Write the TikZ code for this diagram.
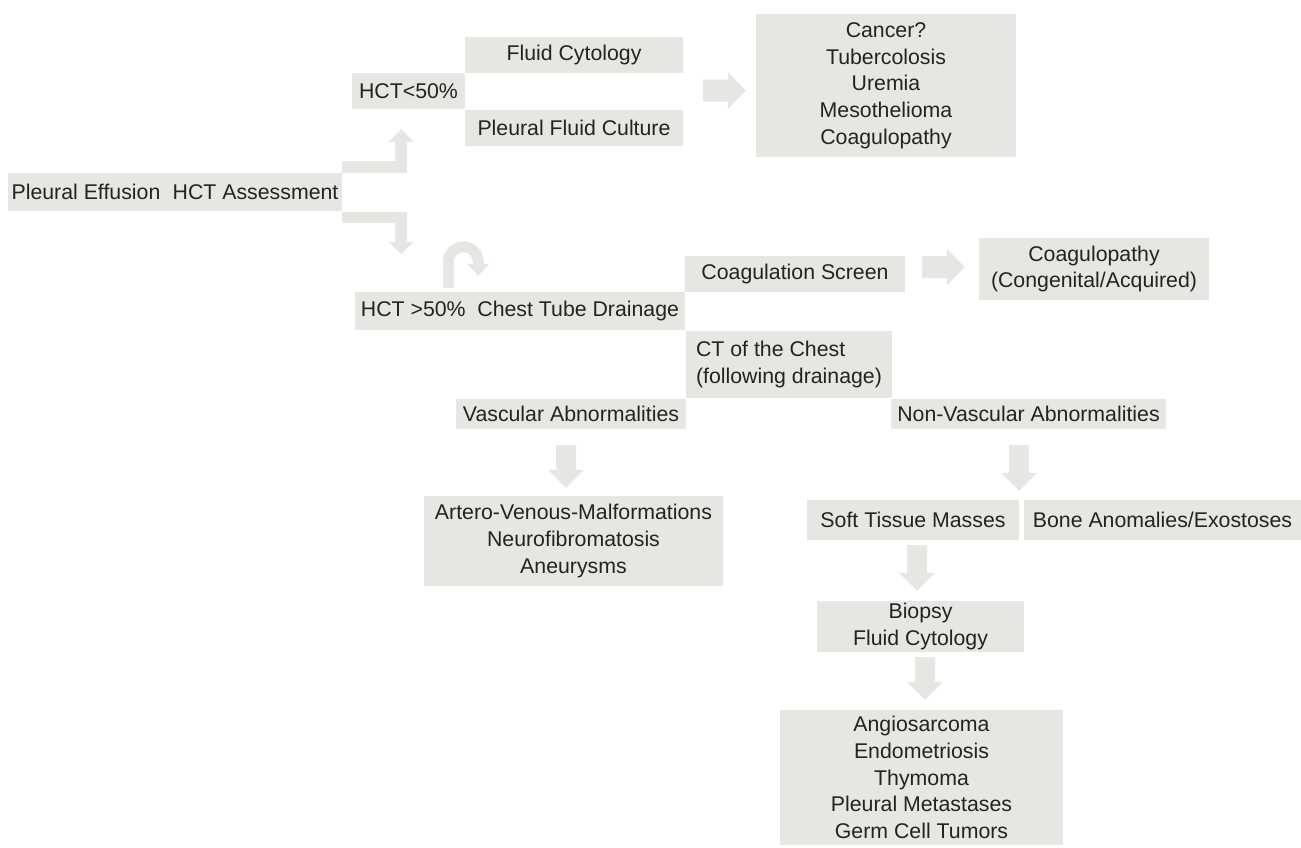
\documentclass[tikz,border=0pt]{standalone}
\usepackage{fontspec}
\setmainfont{Liberation Sans}
\usetikzlibrary{calc}
\definecolor{boxgray}{RGB}{230,231,226}
\definecolor{txt}{RGB}{35,35,35}
\newcommand\dnarrow[2]{\fill[arr] ($(#2 |- #1)+(-10,0)$) -- ($(#2 |- #1)+(10,0)$) -- ($(#2)+(10,-18)$) -- ($(#2)+(18,-18)$) -- (#2) -- ($(#2)+(-18,-18)$) -- ($(#2)+(-10,-18)$) -- cycle;}
\newcommand\rtarrow[2]{\fill[arr] ($(#2 -| #1)+(0,-11)$) -- ($(#2)+(-18,-11)$) -- ($(#2)+(-18,-18.5)$) -- (#2) -- ($(#2)+(-18,18.5)$) -- ($(#2)+(-18,11)$) -- ($(#2 -| #1)+(0,11)$) -- cycle;}
\begin{document}
\begin{tikzpicture}[x=1pt,y=-1pt,
  box/.style={fill=boxgray, text=txt, inner sep=0pt, align=center, font=\fontsize{21.3}{26.7}\selectfont},
  arr/.style={fill=boxgray}]
\useasboundingbox (0,0) rectangle (1301,847);

\node[box, minimum width=334, minimum height=38] (pe) at (175,192) {Pleural Effusion\hspace{0.3em} HCT Assessment};
\node[box, minimum width=113, minimum height=36] (hlow) at (408.5,91) {HCT<50\%};
\node[box, minimum width=218, minimum height=36] (fc) at (574,55) {Fluid Cytology};
\node[box, minimum width=218, minimum height=36] (pfc) at (574,128) {Pleural Fluid Culture};
\node[box, minimum width=260, minimum height=143] (cancer) at (886,85.5) {Cancer?\\Tubercolosis\\Uremia\\Mesothelioma\\Coagulopathy};
\node[box, minimum width=330, minimum height=38] (hhigh) at (520,311) {HCT >50\%\hspace{0.55em}Chest Tube Drainage};
\node[box, minimum width=220, minimum height=36] (coagscr) at (795,274) {Coagulation Screen};
\node[box, minimum width=230, minimum height=62] (coagpathy) at (1094,269) {Coagulopathy\\(Congenital/Acquired)};
\node[box, minimum width=206, minimum height=67, align=left] (ct) at (789,364.5) {CT of the Chest\\(following drainage)};
\node[box, minimum width=230, minimum height=30] (vasc) at (571,414) {Vascular Abnormalities};
\node[box, minimum width=275, minimum height=30] (nonvasc) at (1028.5,414) {Non-Vascular Abnormalities};
\node[box, minimum width=299, minimum height=90] (artero) at (573.5,541) {Artero-Venous-Malformations\\Neurofibromatosis\\Aneurysms};
\node[box, minimum width=212, minimum height=40] (soft) at (913,520) {Soft Tissue Masses};
\node[box, minimum width=277, minimum height=40] (bone) at (1162.5,520) {Bone Anomalies/Exostoses};
\node[box, minimum width=207, minimum height=51] (biopsy) at (920.5,626.5) {Biopsy\\Fluid Cytology};
\node[box, minimum width=283, minimum height=135] (angio) at (921.5,777.5) {Angiosarcoma\\Endometriosis\\Thymoma\\Pleural Metastases\\Germ Cell Tumors};

% elbow arrows from the assessment box
\fill[arr] (pe.east) ++(0,-31) -- ++(53,0) -- ++(0,-19) -- ++(-6.5,0) -- ++(12.5,-13) -- ++(12.5,13) -- ++(-6.5,0) -- ++(0,31) -- ++(-65,0) -- cycle;
\fill[arr] (pe.east) ++(0,20) -- ++(65,0) -- ++(0,30) -- ++(6.5,0) -- ++(-12.5,12) -- ++(-12.5,-12) -- ++(6.5,0) -- ++(0,-19) -- ++(-53,0) -- cycle;

% U-turn arrow
\fill[arr] ($(hhigh.north west)+(88,-4)$) -- ++(0,-26) arc[start angle=180,end angle=0,radius=20.5pt] -- ++(0,2) -- ++(5.5,0) -- ++(-11,12) -- ++(-11,-12) -- ++(5.5,0) -- ++(0,-2) arc[start angle=0,end angle=180,radius=9.5pt] -- ++(0,26) -- cycle;

% right block arrows
\coordinate (a1s) at ($(fc.east)+(20,0)$);
\coordinate (a1t) at ($(cancer.west)+(-10,5)$);
\rtarrow{a1s}{a1t}
\coordinate (a2s) at ($(coagscr.east)+(17,0)$);
\coordinate (a2t) at ($(coagpathy.west)+(-14,-2)$);
\rtarrow{a2s}{a2t}

% down block arrows
\coordinate (d1s) at ($(vasc.south)+(0,16)$);
\coordinate (d1t) at ($(artero.north)+(-7.5,-8)$);
\dnarrow{d1s}{d1t}
\coordinate (d2s) at ($(nonvasc.south)+(0,16)$);
\coordinate (d2t) at ($(soft.north east)+(0,-9)$);
\dnarrow{d2s}{d2t}
\coordinate (d3s) at ($(soft.south)+(0,5)$);
\coordinate (d3t) at ($(biopsy.north)+(-3.5,-10)$);
\dnarrow{d3s}{d3t}
\coordinate (d4s) at ($(biopsy.south)+(0,5)$);
\coordinate (d4t) at ($(angio.north)+(3.5,-10)$);
\dnarrow{d4s}{d4t}
\end{tikzpicture}
\end{document}
